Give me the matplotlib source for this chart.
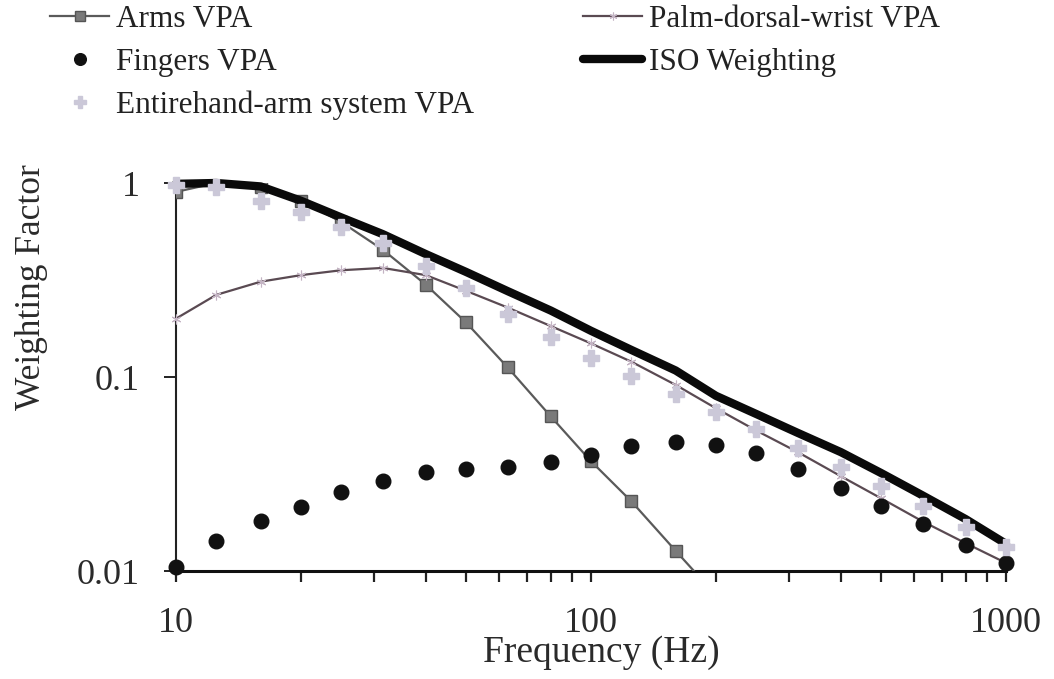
import matplotlib
matplotlib.use("Agg")
import matplotlib.pyplot as plt

plt.rcParams['font.family'] = ['Liberation Serif', 'DejaVu Serif']

# One-third octave band centre frequencies (Hz)
freq = [10, 12.5, 16, 20, 25, 31.5, 40, 50, 63, 80, 100, 125, 160, 200,
        250, 315, 400, 500, 630, 800, 1000]

arms_vpa = [0.90, 1.0, 0.955, 0.81, 0.63, 0.453, 0.299, 0.191, 0.112, 0.0626,
            0.0368, 0.0229, 0.0127, 0.0075]
palm_vpa = [0.20, 0.265, 0.31, 0.335, 0.355, 0.365, 0.335, 0.278, 0.228, 0.183,
            0.149, 0.12, 0.091, 0.069, 0.053, 0.041, 0.0308, 0.0237, 0.018,
            0.0139, 0.011]
fingers_vpa = [0.0105, 0.0143, 0.0181, 0.0213, 0.0256, 0.0292, 0.0322, 0.0335,
               0.0342, 0.0365, 0.0394, 0.0439, 0.0464, 0.0446, 0.0404, 0.0337,
               0.0269, 0.0217, 0.0174, 0.0136, 0.0110]
iso_weighting = [0.99, 1.0, 0.96, 0.81, 0.665, 0.545, 0.43, 0.348, 0.277, 0.22,
                 0.173, 0.138, 0.108, 0.080, 0.0645, 0.0515, 0.041, 0.032,
                 0.0245, 0.0185, 0.0138]
entire_vpa = [0.976, 0.953, 0.808, 0.710, 0.594, 0.491, 0.374, 0.288, 0.212,
              0.160, 0.126, 0.1006, 0.0813, 0.0657, 0.0537, 0.0429, 0.0342,
              0.0274, 0.0216, 0.0168, 0.0133]

x_ticks = [10, 100, 1000]
x_tick_labels = ['10', '100', '1000']
y_ticks = [0.01, 0.1, 1]
y_tick_labels = ['0.01', '0.1', '1']

W, H = 1054, 679
fig = plt.figure(figsize=(W / 100, H / 100), dpi=100)
ax = fig.add_axes([176 / W, (H - 571) / H, (1006 - 176) / W, (571 - 183) / H])

n_arms = len(arms_vpa)
ax.plot(freq[:n_arms], arms_vpa, color='#5a5a5a', lw=1.6, marker='s', ms=9,
        mfc='#7a7a7a', mec='#555555', mew=1.0, zorder=3, label='Arms VPA')
ax.plot(freq, palm_vpa, color='#5a4a52', lw=1.6, marker=(6, 2, 0), ms=7,
        mec='#c4b4c4', mew=0.8, zorder=3, clip_on=False,
        label='Palm-dorsal-wrist VPA')
ax.plot(freq, fingers_vpa, ls='none', marker='o', ms=10.5, mfc='#111111',
        mec='#111111', zorder=4, clip_on=False, label='Fingers VPA')
ax.plot(freq, iso_weighting, color='#0a0a0a', lw=6, solid_capstyle='round',
        zorder=5, clip_on=False, label='ISO Weighting')
ax.plot(freq, entire_vpa, ls='none', marker='P', ms=11, mfc='#cbc8d8',
        mec='#cbc8d8', zorder=6, clip_on=False,
        label='Entirehand-arm system VPA')

ax.set_xscale('log')
ax.set_yscale('log')
ax.set_xlim(10, 1000)
ax.set_ylim(0.01, 1)
ax.set_xticks(x_ticks)
ax.set_xticklabels(x_tick_labels)
ax.set_yticks(y_ticks)
ax.set_yticklabels(y_tick_labels)
ax.yaxis.set_minor_locator(matplotlib.ticker.NullLocator())

for side in ('top', 'right'):
    ax.spines[side].set_visible(False)
ax.spines['left'].set_linewidth(1.5)
ax.spines['bottom'].set_linewidth(2.2)
ax.spines['left'].set_color('#222222')
ax.spines['bottom'].set_color('#111111')

ax.tick_params(axis='x', which='both', direction='out', length=8, width=1.6,
               color='#222222', labelsize=26, pad=18)
ax.tick_params(axis='y', which='major', direction='out', length=9, width=1.4,
               color='#222222', labelsize=26, pad=17)
for lbl in ax.get_xticklabels() + ax.get_yticklabels():
    lbl.set_color('#2a2a2a')

ax.set_xlabel('Frequency (Hz)', fontsize=27, color='#2a2a2a')
ax.xaxis.set_label_coords((601 - 176) / (1006 - 176), -(653 - 571) / (571 - 183))
ax.set_ylabel('Weighting Factor', fontsize=25.5, color='#2a2a2a')
ax.yaxis.set_label_coords(-(176 - 32) / (1006 - 176), (571 - 287) / (571 - 183))
ax.xaxis.label.set_va('center')
ax.yaxis.label.set_va('center')

handles = {h.get_label(): h for h in ax.get_lines()}
order = ['Arms VPA', 'Fingers VPA', 'Entirehand-arm system VPA',
         'Palm-dorsal-wrist VPA', 'ISO Weighting']
leg = fig.legend([handles[k] for k in order], order, ncol=2, frameon=False,
                 loc='upper left', bbox_to_anchor=(50 / W, 1 - 5 / H),
                 fontsize=22.5, handlelength=1.9, handletextpad=0.2,
                 columnspacing=3.5, labelspacing=0.44, borderpad=0,
                 borderaxespad=0, markerscale=0.8)
for t in leg.get_texts():
    t.set_color('#222222')

fig.savefig('out.png', dpi=100, facecolor='white')
